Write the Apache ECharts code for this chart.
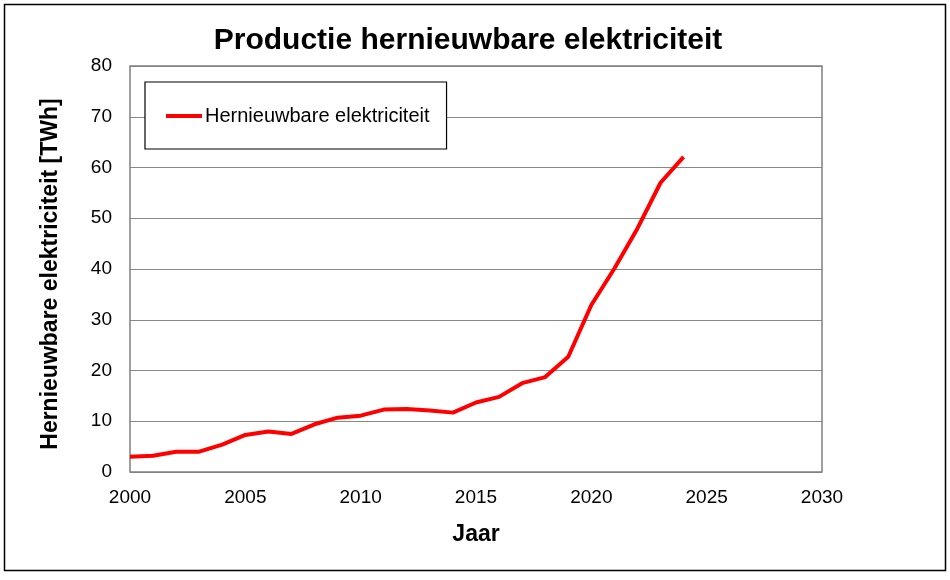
<!DOCTYPE html>
<html>
<head>
<meta charset="utf-8">
<script src="https://cdn.jsdelivr.net/npm/echarts@6/dist/echarts.min.js"></script>
<style>
html,body{margin:0;padding:0;background:#fff;}
#c{width:950px;height:580px;}
</style>
</head>
<body>
<div id="c"></div>
<script>
var years = [2000,2001,2002,2003,2004,2005,2006,2007,2008,2009,2010,2011,2012,2013,2014,2015,2016,2017,2018,2019,2020,2021,2022,2023,2024];
var renewable = [3.0,3.2,4.0,4.0,5.4,7.3,8.0,7.5,9.4,10.7,11.1,12.3,12.4,12.1,11.7,13.7,14.8,17.5,18.7,22.7,32.9,40.1,48.0,57.0,62.1];
var seriesName = 'Hernieuwbare elektriciteit';
var titleText = 'Productie hernieuwbare elektriciteit';
var xName = 'Jaar';
var yName = 'Hernieuwbare elektriciteit [TWh]';

var chart = echarts.init(document.getElementById('c'));
var font = 'Liberation Sans, Arial, sans-serif';
chart.setOption({
  animation: false,
  backgroundColor: '#fff',
  textStyle: {fontFamily: font},
  title: {
    text: titleText, left: 463, top: 21, textAlign: 'center',
    textStyle: {fontSize: 30, fontWeight: 'bold', color: '#000', fontFamily: font}
  },
  graphic: [
    {type: 'rect', shape: {x: 4.5, y: 4.5, width: 941, height: 566},
     style: {fill: 'none', stroke: '#000', lineWidth: 1.5}, z: -1},
    {type: 'rect', shape: {x: 130, y: 66, width: 692, height: 406},
     style: {fill: 'none', stroke: '#808080', lineWidth: 1.5}, z: 5}
  ],
  legend: {
    left: 145, top: 82,
    padding: [24, 17, 23, 21],
    backgroundColor: '#fff', borderColor: '#000', borderWidth: 1.2,
    itemWidth: 36, itemHeight: 4, itemGap: 4,
    icon: 'rect',
    textStyle: {fontSize: 20, color: '#000', fontFamily: font, padding: [0, 0, 0, -2]},
    data: [{name: seriesName, itemStyle: {color: '#ff0000'}}]
  },
  grid: {left: 130, top: 66, right: 128, bottom: 108, containLabel: false},
  xAxis: {
    type: 'value', min: 2000, max: 2030, interval: 5,
    name: xName, nameLocation: 'middle', nameGap: 51,
    nameTextStyle: {fontSize: 23, fontWeight: 'bold', color: '#000'},
    axisLine: {show: false}, axisTick: {show: false},
    splitLine: {show: false},
    axisLabel: {fontSize: 19, color: '#000', margin: 16,
      formatter: function(v){ return String(v); }}
  },
  yAxis: {
    type: 'value', min: 0, max: 80, interval: 10,
    name: yName, nameLocation: 'middle', nameGap: 68, nameRotate: 90,
    nameTextStyle: {fontSize: 23, fontWeight: 'bold', color: '#000', padding: [0, 10, 0, 0]},
    axisLine: {show: false}, axisTick: {show: false},
    splitLine: {show: true, lineStyle: {color: '#888', width: 1.2}},
    axisLabel: {fontSize: 19, color: '#000', margin: 18}
  },
  series: [{
    name: seriesName, type: 'line',
    data: years.map(function(y, i){ return [y, renewable[i]]; }),
    showSymbol: false, symbol: 'none',
    lineStyle: {color: '#ff0000', width: 4},
    itemStyle: {color: '#ff0000'},
    z: 10
  }]
});
</script>
</body>
</html>
